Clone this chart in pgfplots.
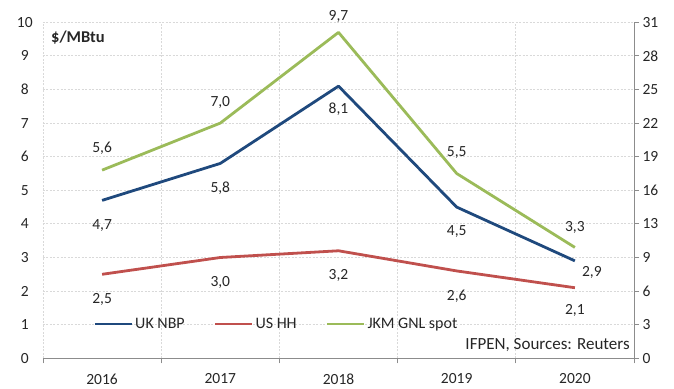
\documentclass[border=0pt]{standalone}
\usepackage{fontspec}
\setmainfont{Carlito}
\usepackage{pgfplots}
\usepackage{pgfplotstable}
\pgfplotsset{compat=1.18}
\definecolor{nbpc}{HTML}{1F497D}
\definecolor{hhc}{HTML}{C0504D}
\definecolor{jkmc}{HTML}{9BBB59}
\definecolor{gridc}{HTML}{D9D9D9}
\definecolor{axc}{HTML}{8C8C8C}
\definecolor{txt}{HTML}{262626}

\pgfplotstableread{
x y dx dy
0 4.7 0 -25
1 5.8 0 -25
2 8.1 0 -23
3 4.5 0 -24
4 2.9 17 -12
}\tabnbp
\pgfplotstableread{
x y dx dy
0 2.5 0 -25
1 3.0 0 -25
2 3.2 0 -25
3 2.6 0 -25
4 2.1 0 -23
}\tabhh
\pgfplotstableread{
x y dx dy
0 5.6 0 22
1 7.0 0 21
2 9.7 0 16
3 5.5 0 21
4 3.3 0 20
}\tabjkm

\pgfplotsset{
  /pgf/number format/assume math mode=true,
  lbl/.style={
    nodes near coords={\pgfmathprintnumber[fixed,fixed zerofill,precision=1,use comma]{\pgfplotspointmeta}},
    point meta=y,
    visualization depends on={\thisrow{dx}\as\dx},
    visualization depends on={\thisrow{dy}\as\dy},
    every node near coord/.append style={anchor=center, xshift=\dx pt, yshift=\dy pt, text=txt, inner sep=0pt},
  },
}

\begin{document}
\begin{tikzpicture}[font=\fontsize{15.5}{18}\selectfont, text=txt]
\begin{axis}[
  scale only axis, width=591pt, height=336pt,
  xmin=-0.5, xmax=4.5, ymin=0, ymax=10,
  axis x line*=bottom, axis y line*=left,
  x axis line style={draw=axc, line width=0.8pt},
  y axis line style={draw=none},
  xtick={-0.5,0.5,1.5,2.5,3.5,4.5}, xticklabels={},
  xtick style={draw=axc, line width=0.8pt},
  tick align=outside, major tick length=5pt,
  extra x ticks={0,1,2,3,4},
  extra x tick labels={2016,2017,2018,2019,2020},
  extra x tick style={major tick length=0pt, grid=none, xticklabel style={yshift=-12pt}},
  ytick={0,1,...,10}, ytick style={draw=none},
  yticklabel style={anchor=east, text width=18pt, align=center, inner sep=0pt, xshift=-4pt},
  xmajorgrids, ymajorgrids,
  major grid style={draw=gridc, dash pattern=on 2pt off 1.5pt, line width=0.8pt},
  legend style={at={(0.085,0.102)}, anchor=west, draw=none, fill=none,
    inner sep=0pt, font=\fontsize{16}{18}\selectfont,
    /tikz/every even column/.append style={column sep=27pt}},
  legend columns=3,
  legend image code/.code={\draw[#1] (0pt,0pt) -- (37pt,0pt);},
]
\coordinate (bl) at (rel axis cs:0,0);
\coordinate (tr) at (rel axis cs:1,1);
\addplot[nbpc, line width=2.8pt, line join=round, no marks, lbl] table[x=x,y=y]{\tabnbp};
\addlegendentry{UK NBP}
\addplot[hhc, line width=2.8pt, line join=round, no marks, lbl] table[x=x,y=y]{\tabhh};
\addlegendentry{US HH}
\addplot[jkmc, line width=2.8pt, line join=round, no marks, lbl] table[x=x,y=y]{\tabjkm};
\addlegendentry{JKM GNL spot}
\node[anchor=west, inner sep=0pt, font=\fontsize{16.5}{18}\selectfont\bfseries] at (axis description cs:0.0135,0.953) {\$/MBtu};
\node[anchor=east, inner sep=0pt, font=\fontsize{17}{18}\selectfont] at (axis description cs:0.993,0.04) {IFPEN, Sources: Reuters};
\end{axis}
\begin{axis}[
  scale only axis, width=591pt, height=336pt,
  xmin=-0.5, xmax=4.5, ymin=0, ymax=10,
  axis x line=none, axis y line*=right,
  y axis line style={draw=axc, line width=0.8pt},
  ytick={0,1,...,10},
  yticklabels={0,3,6,9,13,16,19,22,25,28,31},
  ytick style={draw=axc, line width=0.8pt},
  tick align=outside, major tick length=5pt,
]
\end{axis}
\pgfresetboundingbox
\path ([shift={(-43pt,-29.7pt)}]bl) rectangle ([shift={(40pt,22.3pt)}]tr);
\end{tikzpicture}
\end{document}
